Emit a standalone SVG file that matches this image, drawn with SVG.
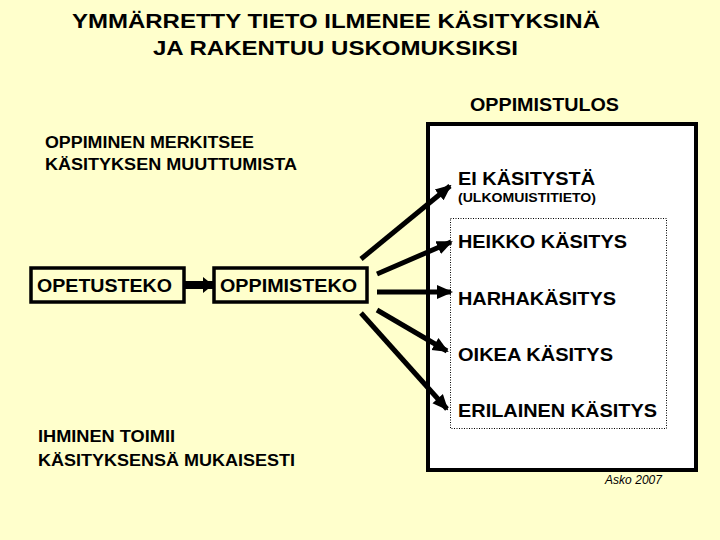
<svg xmlns="http://www.w3.org/2000/svg" width="720" height="540" viewBox="0 0 720 540">
<style>
text{font-family:"Liberation Sans",Arial,sans-serif;font-weight:bold;fill:#000}
.title{font-size:21px}
.lbl{font-size:19px}
.sm{font-size:16px}
.note{font-size:12px;font-weight:normal;font-style:italic}
.box{fill:none;stroke:#000;stroke-width:3.5}
.arr{stroke:#000;stroke-width:5;fill:none;marker-end:url(#ah)}
</style>
<defs>
<marker id="ah" markerUnits="userSpaceOnUse" markerWidth="16" markerHeight="16" refX="14" refY="8" orient="auto">
<path d="M0,1 L16,8 L0,15 Z" fill="#000"/>
</marker>
<marker id="ah2" markerUnits="userSpaceOnUse" markerWidth="12" markerHeight="16" refX="10" refY="8" orient="auto">
<path d="M0,0 L10,8 L0,16 Z" fill="#000"/>
</marker>
</defs>
<rect width="720" height="540" fill="#FFFFCC"/>
<g id="title">
<text class="title" x="72" y="28" textLength="528" lengthAdjust="spacingAndGlyphs">YMMÄRRETTY TIETO ILMENEE KÄSITYKSINÄ</text>
<text class="title" x="153" y="55" textLength="365" lengthAdjust="spacingAndGlyphs">JA RAKENTUU USKOMUKSIKSI</text>
</g>
<g id="note1">
<text class="sm" x="45" y="148" textLength="209" lengthAdjust="spacingAndGlyphs">OPPIMINEN MERKITSEE</text>
<text class="sm" x="45" y="170" textLength="252" lengthAdjust="spacingAndGlyphs">KÄSITYKSEN MUUTTUMISTA</text>
</g>
<g id="note2">
<text class="sm" x="38" y="442" textLength="137" lengthAdjust="spacingAndGlyphs">IHMINEN TOIMII</text>
<text class="sm" x="38" y="466" textLength="257" lengthAdjust="spacingAndGlyphs">KÄSITYKSENSÄ MUKAISESTI</text>
</g>
<g id="opetusteko">
<rect class="box" x="31" y="268" width="153" height="34"/>
<text class="lbl" x="37" y="292" textLength="135" lengthAdjust="spacingAndGlyphs">OPETUSTEKO</text>
</g>
<g id="oppimisteko">
<rect class="box" x="214" y="268" width="153" height="34"/>
<text class="lbl" x="220" y="292" textLength="137" lengthAdjust="spacingAndGlyphs">OPPIMISTEKO</text>
</g>
<g id="oppimistulos">
<text class="lbl" x="470" y="111" textLength="149" lengthAdjust="spacingAndGlyphs">OPPIMISTULOS</text>
<rect x="428" y="124" width="268" height="346" fill="#fff" stroke="#000" stroke-width="4"/>
<rect x="450.5" y="218.5" width="216" height="210" fill="none" stroke="#000" stroke-width="1" stroke-dasharray="1,1.5"/>
<text class="lbl" x="458" y="185" textLength="137" lengthAdjust="spacingAndGlyphs">EI KÄSITYSTÄ</text>
<text x="458" y="202" font-size="13" textLength="138" lengthAdjust="spacingAndGlyphs">(ULKOMUISTITIETO)</text>
<text class="lbl" x="458" y="248" textLength="169" lengthAdjust="spacingAndGlyphs">HEIKKO KÄSITYS</text>
<text class="lbl" x="458" y="305" textLength="158" lengthAdjust="spacingAndGlyphs">HARHAKÄSITYS</text>
<text class="lbl" x="458" y="361" textLength="155" lengthAdjust="spacingAndGlyphs">OIKEA KÄSITYS</text>
<text class="lbl" x="458" y="417" textLength="199" lengthAdjust="spacingAndGlyphs">ERILAINEN KÄSITYS</text>
</g>
<g id="connectors">
<line x1="185" y1="285" x2="213" y2="285" stroke="#000" stroke-width="8" marker-end="url(#ah2)"/>
<line class="arr" x1="361" y1="259" x2="450" y2="186"/>
<line class="arr" x1="377" y1="274" x2="451" y2="242"/>
<line class="arr" x1="377" y1="292" x2="451" y2="292"/>
<line class="arr" x1="377" y1="310" x2="447" y2="351"/>
<line class="arr" x1="361" y1="313" x2="447" y2="409"/>
</g>
<text class="note" x="605" y="484" textLength="57">Asko 2007</text>
</svg>
